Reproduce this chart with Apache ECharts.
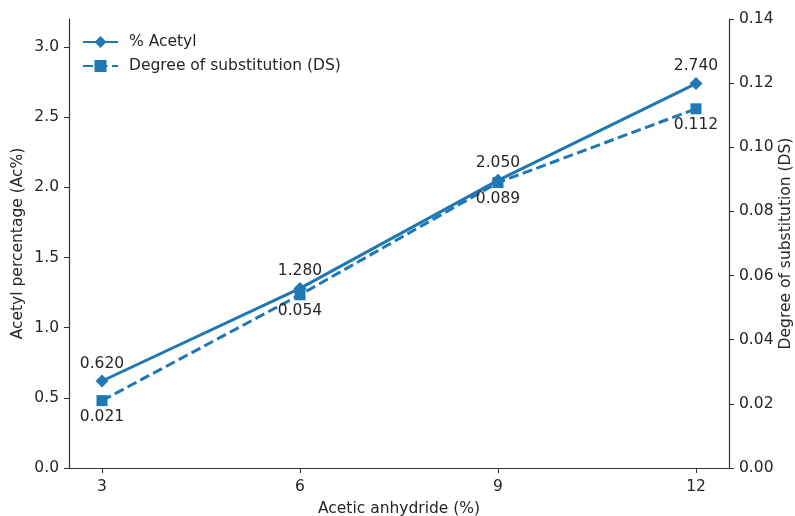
<!DOCTYPE html>
<html>
<head>
<meta charset="utf-8">
<script src="https://cdn.jsdelivr.net/npm/echarts@6/dist/echarts.min.js"></script>
<style>html,body{margin:0;padding:0;background:#fff;overflow:hidden}#c{width:795px;height:516px}</style>
</head>
<body>
<div id="c"></div>
<script>
const xValues = [3, 6, 9, 12];
const acetyl = [0.620, 1.280, 2.050, 2.740];
const ds = [0.021, 0.054, 0.089, 0.112];
const xTicks = [3, 6, 9, 12];

const FONT = 'DejaVu Sans';
const FS = 15.5;
const COLOR = '#1f77b4';
const TXT = '#262626';
const AX = '#333';

const chart = echarts.init(document.getElementById('c'), null, {renderer: 'canvas'});
chart.setOption({
  animation: false,
  backgroundColor: '#fff',
  textStyle: {fontFamily: FONT},
  grid: {left: 69, right: 66, top: 19, bottom: 48, containLabel: false, outerBoundsMode: 'none'},
  legend: {
    orient: 'vertical', left: 82, top: 34, padding: 0, itemWidth: 35, itemHeight: 15, itemGap: 8,
    textStyle: {fontFamily: FONT, fontSize: FS, color: TXT, padding: [0, 0, 0, 6]},
    data: ['% Acetyl', 'Degree of substitution (DS)']
  },
  xAxis: {
    type: 'value', min: 2.5, max: 12.5,
    name: 'Acetic anhydride (%)', nameLocation: 'middle', nameGap: 33, nameMoveOverlap: false,
    nameTextStyle: {fontFamily: FONT, fontSize: FS, color: TXT},
    axisLine: {show: true, lineStyle: {color: AX, width: 1.2}},
    axisTick: {show: true, customValues: xTicks, length: 5, lineStyle: {color: AX}},
    axisLabel: {customValues: xTicks, fontFamily: FONT, fontSize: FS, color: TXT, margin: 11},
    splitLine: {show: false}
  },
  yAxis: [
    {
      type: 'value', min: 0, max: 3.2, interval: 0.5, position: 'left',
      name: 'Acetyl percentage (Ac%)', nameLocation: 'middle', nameGap: 43, nameRotate: 90,
      nameMoveOverlap: false,
      nameTextStyle: {fontFamily: FONT, fontSize: FS, color: TXT},
      axisLine: {show: true, lineStyle: {color: AX, width: 1.2}},
      axisTick: {show: true, length: 5, lineStyle: {color: AX}},
      axisLabel: {fontFamily: FONT, fontSize: FS, color: TXT, margin: 10, showMaxLabel: false,
        formatter: v => v.toFixed(1)},
      splitLine: {show: false}
    },
    {
      type: 'value', min: 0, max: 0.14, interval: 0.02, position: 'right',
      name: 'Degree of substitution (DS)', nameLocation: 'middle', nameGap: 49, nameRotate: 90,
      nameMoveOverlap: false,
      nameTextStyle: {fontFamily: FONT, fontSize: FS, color: TXT},
      axisLine: {show: true, lineStyle: {color: AX, width: 1.2}},
      axisTick: {show: true, length: 5, lineStyle: {color: AX}},
      axisLabel: {fontFamily: FONT, fontSize: FS, color: TXT, margin: 10,
        formatter: v => v.toFixed(2)},
      splitLine: {show: false}
    }
  ],
  series: [
    {
      name: '% Acetyl', type: 'line', yAxisIndex: 0,
      data: xValues.map((x, i) => [x, acetyl[i]]),
      symbol: 'diamond', symbolSize: 13,
      lineStyle: {color: COLOR, width: 3},
      itemStyle: {color: COLOR},
      label: {show: true, position: 'top', distance: 3, fontFamily: FONT, fontSize: FS, color: TXT,
        formatter: p => p.value[1].toFixed(3)},
      z: 3
    },
    {
      name: 'Degree of substitution (DS)', type: 'line', yAxisIndex: 1,
      data: xValues.map((x, i) => [x, ds[i]]),
      symbol: 'rect', symbolSize: 11,
      lineStyle: {color: COLOR, width: 3, type: [10, 4.5]},
      itemStyle: {color: COLOR},
      label: {show: true, position: 'bottom', distance: 3, fontFamily: FONT, fontSize: FS, color: TXT,
        formatter: p => p.value[1].toFixed(3)},
      z: 3
    }
  ]
});
</script>
</body>
</html>
